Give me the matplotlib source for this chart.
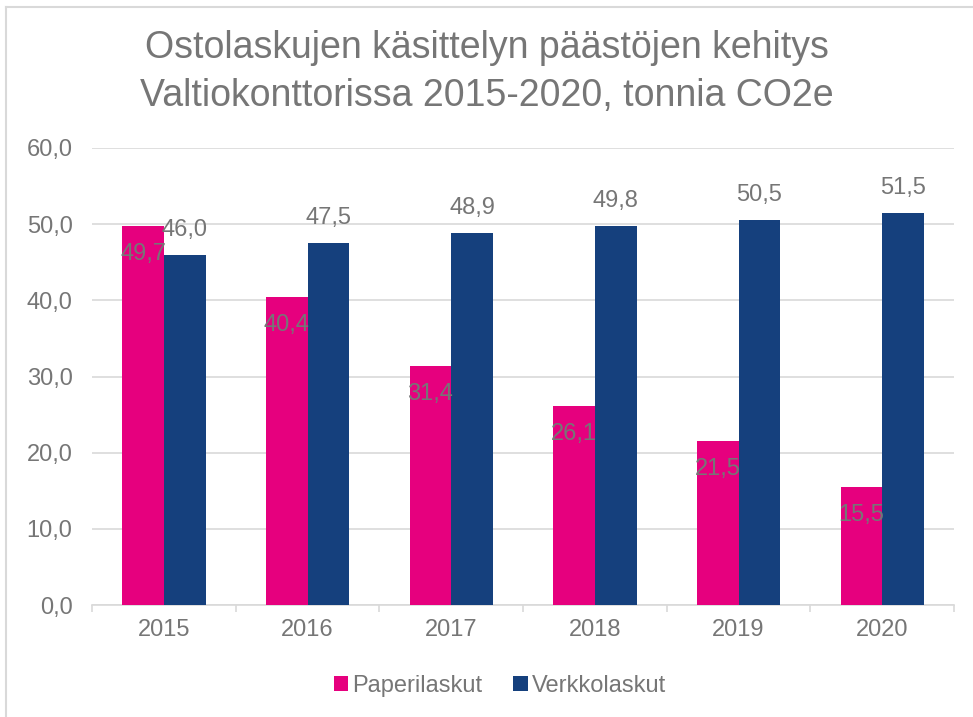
import numpy as np
import matplotlib.pyplot as plt
from matplotlib.lines import Line2D

# Data
years = ['2015', '2016', '2017', '2018', '2019', '2020']
paperi = [49.7, 40.4, 31.4, 26.1, 21.5, 15.5]
verkko = [46.0, 47.5, 48.9, 49.8, 50.5, 51.5]

plt.rcParams['font.family'] = ['Liberation Sans', 'DejaVu Sans']
txt = '#767676'
pink = '#E6007E'
blue = '#15407D'
grid = '#d9d9d9'

fig = plt.figure(figsize=(9.73, 7.17), dpi=100)
ax = fig.add_axes([0.0946, 0.156, 0.886, 0.6376])

x = np.arange(len(years))
w = 0.29
ax.bar(x - w/2, paperi, w, color=pink, label='Paperilaskut', zorder=3)
ax.bar(x + w/2, verkko, w, color=blue, label='Verkkolaskut', zorder=3)

fmt = lambda v: f'{v:.1f}'.replace('.', ',')
for xi, v in zip(x, paperi):
    ax.annotate(fmt(v), (xi - w/2, v), xytext=(0, -20), textcoords='offset points',
                ha='center', va='center', fontsize=17, color=txt, zorder=4)
for xi, v in zip(x, verkko):
    ax.annotate(fmt(v), (xi + w/2, v), xytext=(0, 18), textcoords='offset points',
                ha='center', va='center', fontsize=17, color=txt, zorder=4)

ax.set_xlim(-0.5, 5.5)
ax.set_ylim(0, 60)
ax.set_yticks(np.arange(0, 61, 10))
ax.set_yticklabels([fmt(v) for v in np.arange(0, 61, 10)])
ax.set_xticks(x)
ax.set_xticklabels(years)
ax.set_xticks(np.arange(-0.5, 6, 1), minor=True)
ax.tick_params(axis='both', labelsize=17, colors=txt, length=0)
ax.tick_params(axis='x', which='minor', length=5, width=1.2, color=grid)
ax.tick_params(axis='y', pad=14)
ax.tick_params(axis='x', pad=10)
ax.grid(axis='y', color=grid, linewidth=1.2, zorder=0)
for s in ['top', 'right', 'left']:
    ax.spines[s].set_visible(False)
ax.spines['bottom'].set_color(grid)
ax.spines['bottom'].set_linewidth(1.2)

fig.text(0.5, 0.933, 'Ostolaskujen käsittelyn päästöjen kehitys', ha='center', va='center',
         fontsize=27, color=txt)
fig.text(0.5, 0.866, 'Valtiokonttorissa 2015-2020, tonnia CO2e', ha='center', va='center',
         fontsize=27, color=txt)

fig.legend(loc='center', bbox_to_anchor=(0.514, 0.043), ncol=2, frameon=False, fontsize=17,
           labelcolor=txt, handlelength=0.6, handleheight=0.6, handletextpad=0.2, columnspacing=1.3)

# chart-area border (left and top edges visible in the reference)
fig.add_artist(Line2D([0.006, 0.006], [0, 0.99], transform=fig.transFigure, color=grid, lw=1.5))
fig.add_artist(Line2D([0.006, 1], [0.99, 0.99], transform=fig.transFigure, color=grid, lw=1.5))

fig.savefig('out.png', dpi=100)
